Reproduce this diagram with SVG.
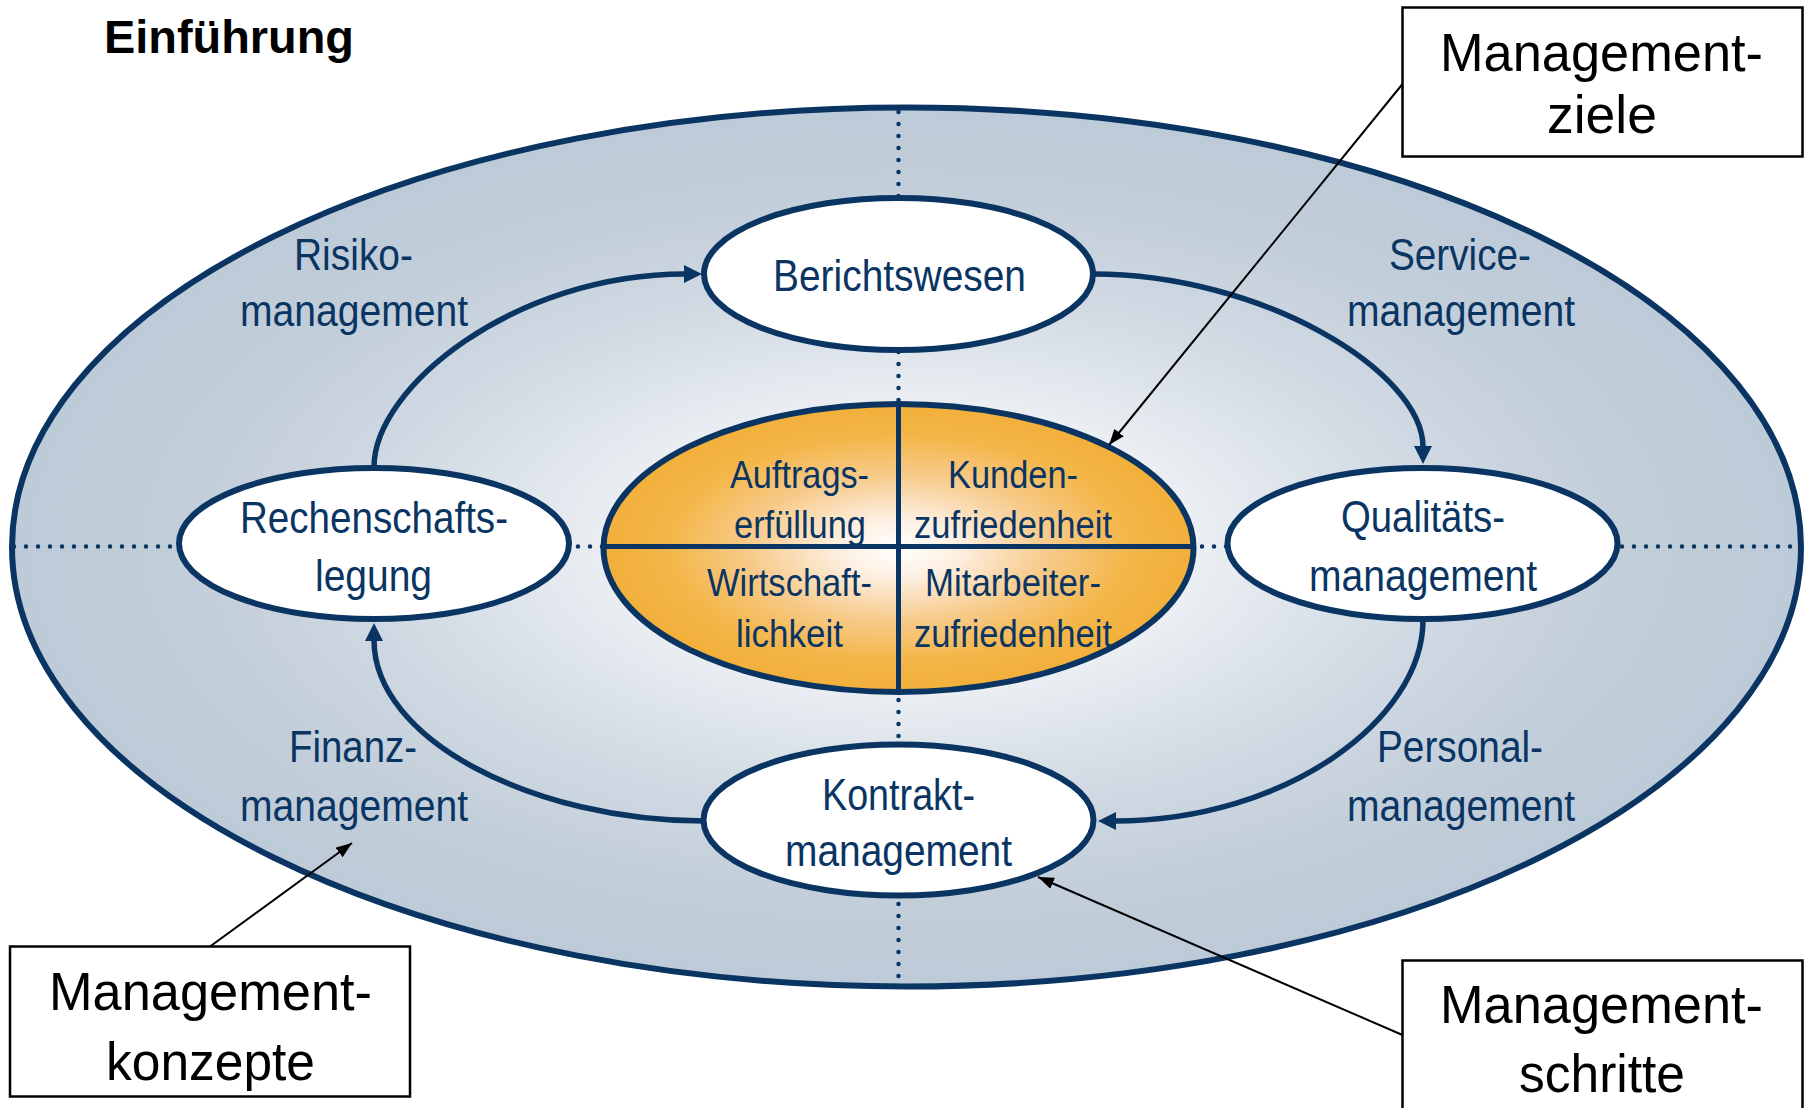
<svg xmlns="http://www.w3.org/2000/svg" width="1810" height="1108" viewBox="0 0 1810 1108">
<defs>
  <radialGradient id="gOuter" cx="0.5" cy="0.5" r="0.5">
    <stop offset="0" stop-color="#FFFFFF"/>
    <stop offset="0.3" stop-color="#EEF1F5"/>
    <stop offset="0.55" stop-color="#D4DCE5"/>
    <stop offset="0.8" stop-color="#C2CEDA"/>
    <stop offset="1" stop-color="#BDCAD7"/>
  </radialGradient>
  <radialGradient id="gCore" cx="0.5" cy="0.5" r="0.5">
    <stop offset="0" stop-color="#FFFFFF"/>
    <stop offset="0.2" stop-color="#FDF0E2"/>
    <stop offset="0.5" stop-color="#F7CB8C"/>
    <stop offset="0.78" stop-color="#F4B649"/>
    <stop offset="1" stop-color="#F2B03A"/>
  </radialGradient>
  <marker id="arrNavy" markerUnits="userSpaceOnUse" viewBox="0 0 18 18" markerWidth="18" markerHeight="18" refX="1" refY="9" orient="auto">
    <path d="M0,0 L18,9 L0,18 z" fill="#0A3563"/>
  </marker>
  <marker id="arrBlack" markerUnits="userSpaceOnUse" viewBox="0 0 16 12" markerWidth="16" markerHeight="12" refX="16" refY="6" orient="auto">
    <path d="M0,0 L16,6 L0,12 z" fill="#000000"/>
  </marker>
</defs>
<style>
  .node { fill: #FFFFFF; stroke: #0A3563; stroke-width: 6; }
  .dots { stroke: #0A3563; stroke-width: 4.5; stroke-linecap: round; stroke-dasharray: 0 12; fill: none; }
  .arc { fill: none; stroke: #0A3563; stroke-width: 5.5; marker-end: url(#arrNavy); }
  .lead { fill: none; stroke: #000000; stroke-width: 2; marker-end: url(#arrBlack); }
  .box { fill: #FFFFFF; stroke: #000000; stroke-width: 2.5; }
  .lbl { font-family: "Liberation Sans Narrow", "Liberation Sans", Arial, sans-serif; font-size: 45px; fill: #0A3563; }
  .core { font-family: "Liberation Sans Narrow", "Liberation Sans", Arial, sans-serif; font-size: 39px; fill: #0A3563; }
  .call { font-family: "Liberation Sans", Arial, sans-serif; font-size: 53px; fill: #000000; }
  .title { font-family: "Liberation Sans", Arial, sans-serif; font-size: 47px; font-weight: bold; fill: #000000; }
</style>

<text class="title" x="104" y="53" textLength="250" lengthAdjust="spacingAndGlyphs">Einführung</text>

<g id="outer-ring">
  <ellipse cx="906.5" cy="547" rx="894.5" ry="439.5" fill="url(#gOuter)" stroke="#0A3563" stroke-width="6"/>
  <line class="dots" x1="14" y1="546.5" x2="1799" y2="546.5"/>
  <line class="dots" x1="898.5" y1="112" x2="898.5" y2="984"/>
</g>

<g id="outer-labels">
  <text class="lbl" x="294" y="270" textLength="119" lengthAdjust="spacingAndGlyphs">Risiko-</text>
  <text class="lbl" x="240" y="326" textLength="228" lengthAdjust="spacingAndGlyphs">management</text>
  <text class="lbl" x="1389" y="270" textLength="142" lengthAdjust="spacingAndGlyphs">Service-</text>
  <text class="lbl" x="1347" y="326" textLength="228" lengthAdjust="spacingAndGlyphs">management</text>
  <text class="lbl" x="289" y="762" textLength="128" lengthAdjust="spacingAndGlyphs">Finanz-</text>
  <text class="lbl" x="240" y="821" textLength="228" lengthAdjust="spacingAndGlyphs">management</text>
  <text class="lbl" x="1377" y="762" textLength="166" lengthAdjust="spacingAndGlyphs">Personal-</text>
  <text class="lbl" x="1347" y="821" textLength="228" lengthAdjust="spacingAndGlyphs">management</text>
</g>

<g id="node-berichtswesen">
  <ellipse class="node" cx="898.5" cy="274" rx="194.5" ry="76"/>
  <text class="lbl" x="773" y="291" textLength="253" lengthAdjust="spacingAndGlyphs">Berichtswesen</text>
</g>

<g id="node-rechenschaftslegung">
  <ellipse class="node" cx="374" cy="543.5" rx="195" ry="75.5"/>
  <text class="lbl" x="240" y="533" textLength="268" lengthAdjust="spacingAndGlyphs">Rechenschafts-</text>
  <text class="lbl" x="315" y="591" textLength="117" lengthAdjust="spacingAndGlyphs">legung</text>
</g>

<g id="node-qualitaetsmanagement">
  <ellipse class="node" cx="1422.5" cy="543.5" rx="195" ry="75.5"/>
  <text class="lbl" x="1341" y="532" textLength="164" lengthAdjust="spacingAndGlyphs">Qualitäts-</text>
  <text class="lbl" x="1309" y="591" textLength="228" lengthAdjust="spacingAndGlyphs">management</text>
</g>

<g id="node-kontraktmanagement">
  <ellipse class="node" cx="898.5" cy="820" rx="195" ry="75.5"/>
  <text class="lbl" x="822" y="810" textLength="153" lengthAdjust="spacingAndGlyphs">Kontrakt-</text>
  <text class="lbl" x="785" y="866" textLength="227" lengthAdjust="spacingAndGlyphs">management</text>
</g>

<g id="node-managementziele-core">
  <ellipse cx="898.5" cy="548" rx="295" ry="144" fill="url(#gCore)" stroke="#0A3563" stroke-width="6"/>
  <text class="core" x="730" y="488" textLength="139" lengthAdjust="spacingAndGlyphs">Auftrags-</text>
  <text class="core" x="734" y="538" textLength="132" lengthAdjust="spacingAndGlyphs">erfüllung</text>
  <text class="core" x="948" y="488" textLength="130" lengthAdjust="spacingAndGlyphs">Kunden-</text>
  <text class="core" x="914" y="538" textLength="198" lengthAdjust="spacingAndGlyphs">zufriedenheit</text>
  <text class="core" x="707" y="596" textLength="165" lengthAdjust="spacingAndGlyphs">Wirtschaft-</text>
  <text class="core" x="736" y="647" textLength="107" lengthAdjust="spacingAndGlyphs">lichkeit</text>
  <text class="core" x="925" y="596" textLength="176" lengthAdjust="spacingAndGlyphs">Mitarbeiter-</text>
  <text class="core" x="914" y="647" textLength="198" lengthAdjust="spacingAndGlyphs">zufriedenheit</text>
  <line x1="898.5" y1="404" x2="898.5" y2="692" stroke="#0A3563" stroke-width="5"/>
  <line x1="604" y1="546.5" x2="1193" y2="546.5" stroke="#0A3563" stroke-width="5"/>
</g>

<g id="box-managementziele">
  <rect class="box" x="1402.5" y="7.5" width="400" height="149"/>
  <text class="call" x="1440" y="71" textLength="323" lengthAdjust="spacingAndGlyphs">Management-</text>
  <text class="call" x="1547" y="133" textLength="110" lengthAdjust="spacingAndGlyphs">ziele</text>
</g>

<g id="box-managementkonzepte">
  <rect class="box" x="10" y="946.5" width="400" height="150"/>
  <text class="call" x="49" y="1010" textLength="323" lengthAdjust="spacingAndGlyphs">Management-</text>
  <text class="call" x="106" y="1080" textLength="209" lengthAdjust="spacingAndGlyphs">konzepte</text>
</g>

<g id="box-managementschritte">
  <rect class="box" x="1402.5" y="960.5" width="400" height="160"/>
  <text class="call" x="1440" y="1023" textLength="323" lengthAdjust="spacingAndGlyphs">Management-</text>
  <text class="call" x="1519" y="1092" textLength="166" lengthAdjust="spacingAndGlyphs">schritte</text>
</g>

<g id="connectors">
  <path class="arc" d="M374,467 C374,387 515,274 685,274"/>
  <path class="arc" d="M1093,274 C1263,274 1423,372 1423,447"/>
  <path class="arc" d="M1423,620 C1423,720 1285,821 1115,821"/>
  <path class="arc" d="M704,821 C534,821 374,740 374,640"/>
  <path class="lead" d="M1402.5,84 L1109,445"/>
  <path class="lead" d="M210,946.5 L352,843"/>
  <path class="lead" d="M1402.5,1035 L1038,877"/>
</g>
</svg>
